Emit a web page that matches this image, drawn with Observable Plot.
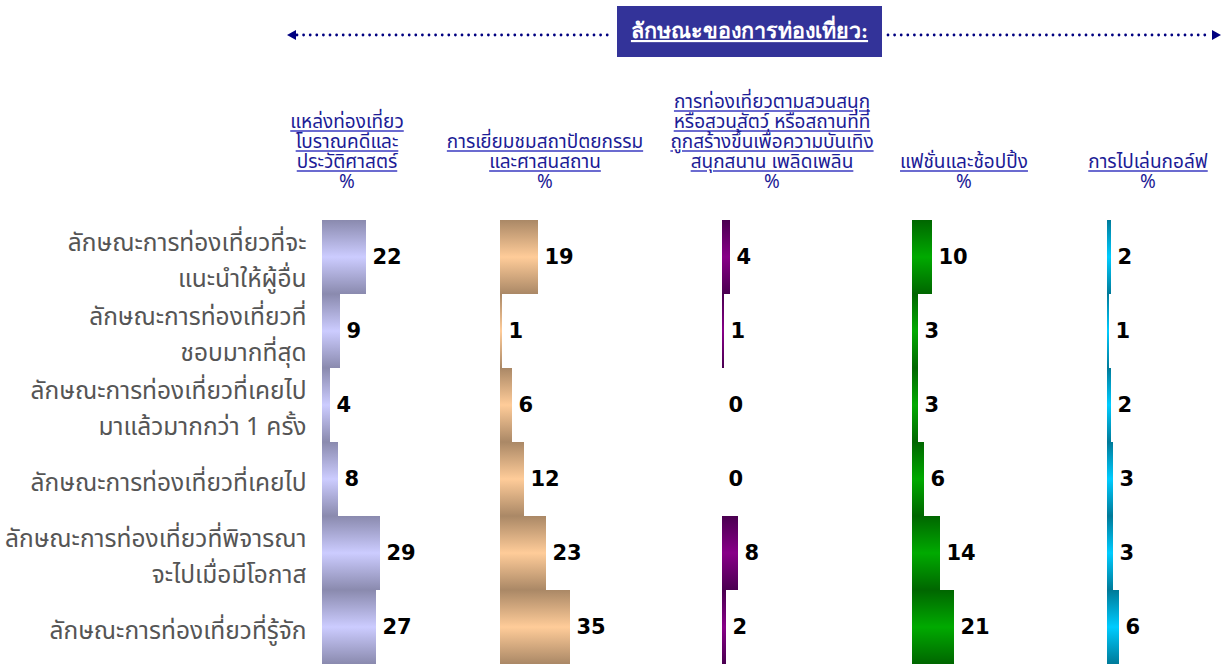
<!DOCTYPE html>
<html>
<head>
<meta charset="utf-8">
<script src="https://cdn.jsdelivr.net/npm/d3@7"></script>
<script src="https://cdn.jsdelivr.net/npm/@observablehq/plot@0.6"></script>
<style>
  html, body { margin: 0; padding: 0; background: #fff; }
  #root { position: relative; width: 1223px; height: 664px; overflow: hidden; font-family: Tahoma, "Noto Sans Thai", "Noto Sans", sans-serif; }
  .hdr { position: absolute; width: 300px; text-align: center; font-size: 19px; line-height: 20px; color: #1c1c96; }
  .hdr span.u { text-decoration: underline; text-decoration-color: #6b6bd0; text-decoration-thickness: 2px; text-underline-offset: 2px; }
  .panel { position: absolute; top: 220px; }
</style>
</head>
<body>
<div id="root"></div>
<script>
// ---- data ----
const bannerTitle = "ลักษณะของการท่องเที่ยว:";
const rowLabels = [
  "ลักษณะการท่องเที่ยวที่จะ\nแนะนำให้ผู้อื่น",
  "ลักษณะการท่องเที่ยวที่\nชอบมากที่สุด",
  "ลักษณะการท่องเที่ยวที่เคยไป\nมาแล้วมากกว่า 1 ครั้ง",
  "ลักษณะการท่องเที่ยวที่เคยไป",
  "ลักษณะการท่องเที่ยวที่พิจารณา\nจะไปเมื่อมีโอกาส",
  "ลักษณะการท่องเที่ยวที่รู้จัก"
];
const seriesNames = [
  ["แหล่งท่องเที่ยว", "โบราณคดีและ", "ประวัติศาสตร์"],
  ["การเยี่ยมชมสถาปัตยกรรม", "และศาสนสถาน"],
  ["การท่องเที่ยวตามสวนสนุก", "หรือสวนสัตว์ หรือสถานที่ที่", "ถูกสร้างขึ้นเพื่อความบันเทิง", "สนุกสนาน เพลิดเพลิน"],
  ["แฟชั่นและช้อปปิ้ง"],
  ["การไปเล่นกอล์ฟ"]
];
const unitLabel = "%";
const archaeology = [22, 9, 4, 8, 29, 27];
const architecture = [19, 1, 6, 12, 23, 35];
const themeParks = [4, 1, 0, 0, 8, 2];
const fashion = [10, 3, 3, 6, 14, 21];
const golf = [2, 1, 2, 3, 3, 6];
const seriesValues = [archaeology, architecture, themeParks, fashion, golf];

// ---- styles / layout ----
const gradients = [
  ["#8a8aae", "#ccccff"],
  ["#aa8866", "#ffcc99"],
  ["#4a0050", "#880088"],
  ["#006600", "#00aa00"],
  ["#007a99", "#00ccff"]
];
const panelStarts = [322, 500, 722, 912, 1107, 1223];
const headerCenters = [347, 545, 772, 964, 1148];
const PX_PER_UNIT = 2;

const root = document.getElementById("root");

// banner (decoration)
const deco = d3.select(root).append("svg")
  .attr("width", 1223).attr("height", 70)
  .style("position", "absolute").style("left", 0).style("top", 0);
const lineY = 35;
deco.append("line").attr("x1", 297).attr("x2", 612).attr("y1", lineY).attr("y2", lineY)
  .attr("stroke", "#000080").attr("stroke-width", 2.8).attr("stroke-linecap", "round").attr("stroke-dasharray", "0 6.6");
deco.append("line").attr("x1", 888).attr("x2", 1210).attr("y1", lineY).attr("y2", lineY)
  .attr("stroke", "#000080").attr("stroke-width", 2.8).attr("stroke-linecap", "round").attr("stroke-dasharray", "0 6.6");
deco.append("path").attr("d", `M287,${lineY} L296,${lineY-5} L296,${lineY+5} Z`).attr("fill", "#000080");
deco.append("path").attr("d", `M1221,${lineY} L1212,${lineY-5} L1212,${lineY+5} Z`).attr("fill", "#000080");
deco.append("rect").attr("x", 617).attr("y", 6).attr("width", 265).attr("height", 51).attr("fill", "#333399");
deco.append("text").attr("x", 749.5).attr("y", 38).attr("text-anchor", "middle")
  .attr("fill", "#fff").attr("font-size", 21.5).attr("font-weight", "bold")
  .attr("font-family", "'Liberation Serif', 'DejaVu Serif', serif")
  .attr("text-decoration", "underline")
  .text(bannerTitle);

// headers
seriesNames.forEach((lines, i) => {
  const d = document.createElement("div");
  d.className = "hdr";
  d.style.left = (headerCenters[i] - 150) + "px";
  d.style.bottom = (664 - 193) + "px";
  d.innerHTML = lines.map(l => `<span class="u">${l}</span>`).join("<br>") + "<br>" + unitLabel;
  root.appendChild(d);
});

// panels
seriesValues.forEach((values, i) => {
  const data = rowLabels.map((r, j) => ({row: r, value: values[j]}));
  const left = i === 0 ? 0 : panelStarts[i];
  const width = panelStarts[i + 1] - left;
  const marginLeft = i === 0 ? panelStarts[0] : 0;
  const gid = "grad" + i;
  const plot = Plot.plot({
    width, height: 444,
    marginTop: 0, marginBottom: 0, marginRight: 0, marginLeft,
    style: {fontFamily: "Tahoma, 'Noto Sans Thai', 'Noto Sans', sans-serif", background: "transparent", overflow: "visible"},
    x: {domain: [0, (width - marginLeft) / PX_PER_UNIT], axis: null},
    y: {domain: rowLabels, padding: 0, axis: null},
    marks: [
      Plot.barX(data, {x: "value", y: "row", fill: `url(#${gid})`}),
      Plot.text(data, {x: "value", y: "row", text: d => String(d.value), textAnchor: "start", dx: 6,
        fontWeight: "bold", fontSize: 21, fill: "#000", fontFamily: "'DejaVu Sans', Verdana, sans-serif"}),
      i === 0 ? Plot.axisY({tickSize: 0, tickPadding: 16, fontSize: 24.5, lineHeight: 1.45, color: "#555", label: null}) : null
    ]
  });
  const defs = d3.select(plot).insert("defs", ":first-child");
  const g = defs.append("linearGradient").attr("id", gid).attr("x1", 0).attr("y1", 0).attr("x2", 0).attr("y2", 1);
  g.append("stop").attr("offset", "0%").attr("stop-color", gradients[i][0]);
  g.append("stop").attr("offset", "50%").attr("stop-color", gradients[i][1]);
  g.append("stop").attr("offset", "100%").attr("stop-color", gradients[i][0]);
  const wrap = document.createElement("div");
  wrap.className = "panel";
  wrap.style.left = left + "px";
  wrap.appendChild(plot);
  root.appendChild(wrap);
});
</script>
</body>
</html>
